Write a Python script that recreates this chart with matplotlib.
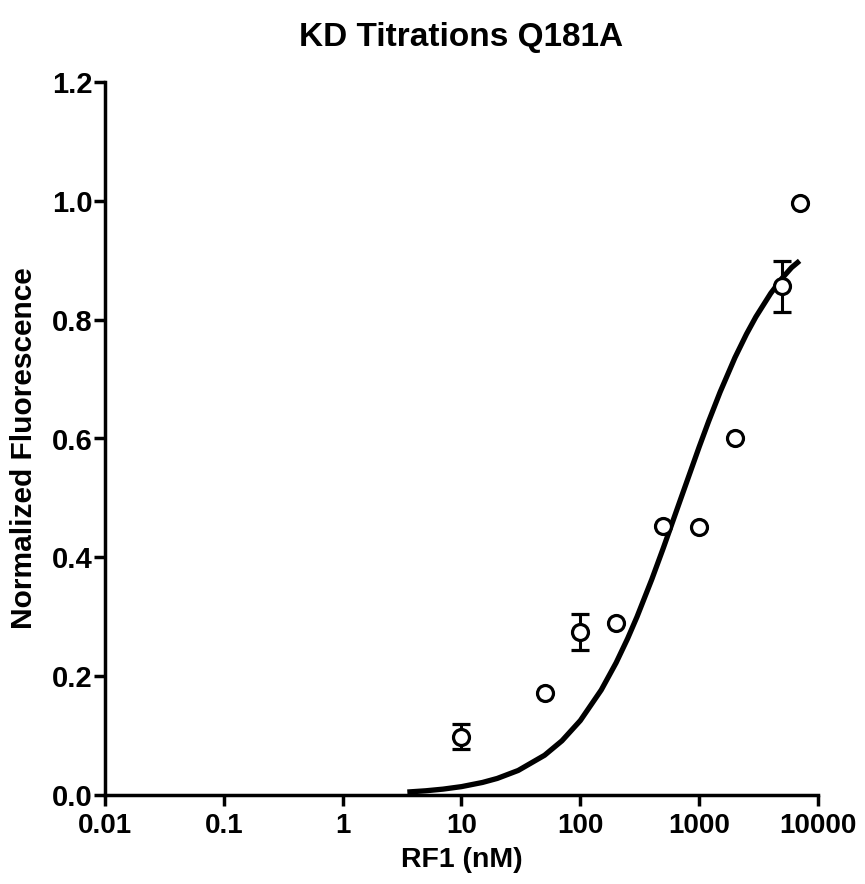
import matplotlib
matplotlib.use("Agg")
import matplotlib.pyplot as plt

plt.rcParams['font.family'] = ['Liberation Sans', 'DejaVu Sans']
plt.rcParams['font.weight'] = 'bold'

# Data points (RF1 concentration in nM, normalized fluorescence, SEM)
conc = [10, 50, 100, 200, 500, 1000, 2000, 5000, 7000]
fluor = [0.098, 0.171, 0.274, 0.289, 0.453, 0.451, 0.600, 0.856, 0.997]
err = [0.021, 0.0, 0.030, 0.0, 0.0, 0.0, 0.0, 0.043, 0.0]

# Fitted curve
fit_x = [3.5, 5, 7, 10, 15, 20, 30, 50, 70, 100, 150, 200, 250, 300, 400, 500,
         700, 1000, 1200, 1500, 2000, 2500, 3000, 4000, 5000, 6000, 7000]
fit_y = [0.005, 0.0071, 0.0099, 0.0141, 0.0211, 0.0279, 0.0413, 0.0669, 0.0912,
         0.1253, 0.1768, 0.2225, 0.2633, 0.300, 0.3633, 0.416, 0.4986, 0.5858,
         0.6286, 0.6781, 0.7361, 0.7757, 0.8047, 0.8443, 0.870, 0.8878, 0.899]

x_ticks = [0.01, 0.1, 1, 10, 100, 1000, 10000]
x_ticklabels = ['0.01', '0.1', '1', '10', '100', '1000', '10000']
y_ticks = [0.0, 0.2, 0.4, 0.6, 0.8, 1.0, 1.2]
y_ticklabels = ['0.0', '0.2', '0.4', '0.6', '0.8', '1.0', '1.2']

fig = plt.figure(figsize=(8.65, 8.84), dpi=100)
ax = fig.add_axes([105/865, 1-795/884, (818-105)/865, (795-82)/884])

ax.plot(fit_x, fit_y, color='black', lw=3.8, solid_capstyle='butt',
        solid_joinstyle='round', zorder=3)

ax.errorbar(conc, fluor, yerr=err, fmt='o', mfc='white', mec='black',
            ms=11.5, mew=2.3, ecolor='black', elinewidth=2.2, capsize=6.2,
            capthick=2.2, zorder=4, clip_on=False)

ax.set_xscale('log')
ax.set_xlim(0.01, 10000)
ax.set_ylim(0, 1.2)
ax.set_xticks(x_ticks)
ax.set_xticklabels(x_ticklabels)
ax.minorticks_off()
ax.set_yticks(y_ticks)
ax.set_yticklabels(y_ticklabels)

for s in ['top', 'right']:
    ax.spines[s].set_visible(False)
for s in ['left', 'bottom']:
    ax.spines[s].set_linewidth(2.5)

ax.tick_params(axis='both', direction='out', length=8, width=2.5)
ax.tick_params(axis='x', labelsize=20, pad=5)
ax.tick_params(axis='y', labelsize=21, pad=1)
for lab in ax.get_xticklabels() + ax.get_yticklabels():
    lab.set_fontweight('bold')

ax.set_xlabel('RF1 (nM)', fontsize=20.5, fontweight='bold', labelpad=6)
ax.set_ylabel('Normalized Fluorescence', fontsize=21.5, fontweight='bold')
ax.yaxis.set_label_coords(-0.094, 0.487)
ax.set_title('KD Titrations Q181A', fontsize=24, fontweight='bold', pad=26)

fig.savefig('out.png', dpi=100, facecolor='white')
